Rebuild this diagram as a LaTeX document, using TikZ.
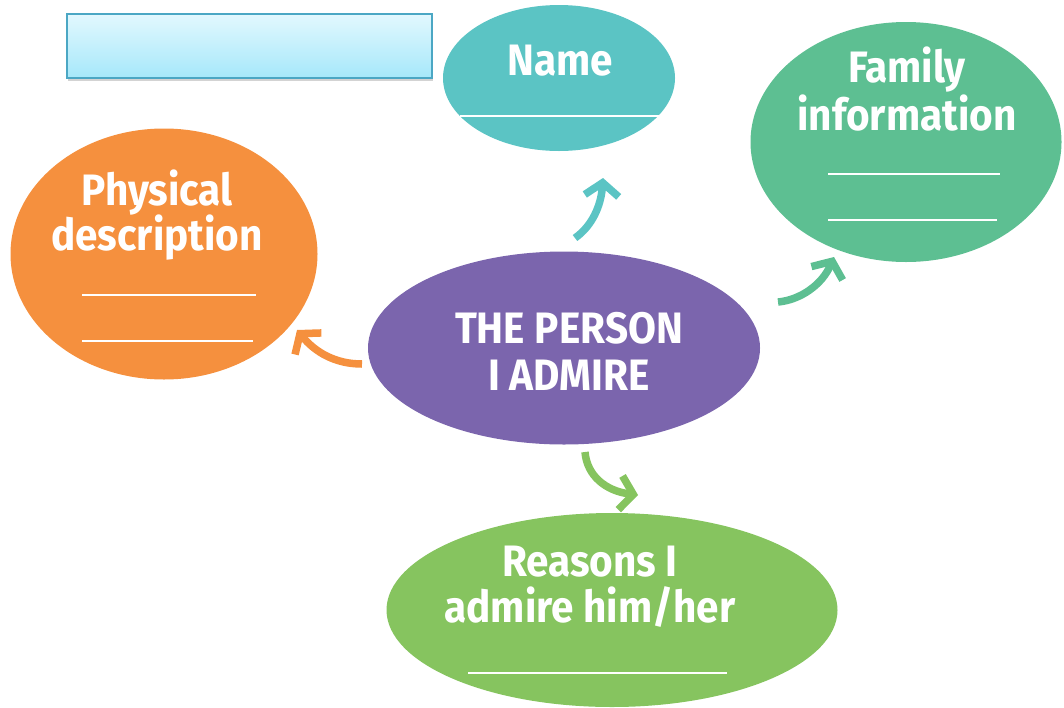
\documentclass[tikz,border=0pt]{standalone}
\usepackage{fontspec}
\newfontfamily\hand{Fira Sans}[FakeStretch=0.92]
\usetikzlibrary{arrows.meta,shadows,shapes.geometric}
\definecolor{corange}{HTML}{F5903E}
\definecolor{cteal}{HTML}{5BC4C4}
\definecolor{cfam}{HTML}{5DBF92}
\definecolor{cpurple}{HTML}{7B65AD}
\definecolor{cgreen}{HTML}{86C45F}
\definecolor{boxtop}{HTML}{E2F8FE}
\definecolor{boxbot}{HTML}{A6E8FA}
\definecolor{boxline}{HTML}{4BA7C4}
\begin{document}
\begin{tikzpicture}[x=1pt,y=-1pt]
\useasboundingbox (0,0) rectangle (1064,707);
\tikzset{
  bubble/.style={ellipse, inner sep=0pt},
  lbl/.style={text=white, font=\hand\bfseries\fontsize{44}{44}\selectfont, anchor=base, inner sep=0pt},
  blank/.style={white, line width=2pt},
  conn/.style={line width=7.5pt, -{Straight Barb[length=13pt,width=34pt]}},
}
% title box
\node[draw=boxline, line width=1.5pt, top color=boxtop, bottom color=boxbot,
      minimum width=365pt, minimum height=64pt, inner sep=0pt,
      drop shadow={shadow xshift=1pt, shadow yshift=-3pt, opacity=0.35}] (box) at (249.5,46) {};
% bubbles
\node[bubble, fill=corange, minimum width=307pt, minimum height=251pt] (phys) at (164,254) {};
\node[bubble, fill=cteal, minimum width=232pt, minimum height=146pt] (name) at (559,78) {};
\node[bubble, fill=cfam, minimum width=311pt, minimum height=240pt] (fam) at (906,142) {};
\node[bubble, fill=cpurple, minimum width=392pt, minimum height=193pt] (person) at (564,348) {};
\node[bubble, fill=cgreen, minimum width=451pt, minimum height=194pt] (reason) at (612,610) {};
% labels
\node[lbl] (t1) at (157,205) {Physical};
\node[lbl] (t2) at (157,250) {description};
\draw[blank] (82,295) -- (256,295);
\draw[blank] (82,341) -- (253,341);
\node[lbl] (t3) at (560,75) {Name};
\draw[blank] (460,116) -- (660,116);
\node[lbl] (t4) at (907,82) {Family};
\node[lbl] (t5) at (907,130) {information};
\draw[blank] (828,174) -- (1000,174);
\draw[blank] (828,220) -- (997,220);
\node[lbl] (t6) at (569,343) {THE PERSON};
\node[lbl] (t7) at (569,390) {I ADMIRE};
\node[lbl] (t8) at (590,576) {Reasons I};
\node[lbl] (t9) at (590,622) {admire him/her};
\draw[blank] (468,673) -- (727,673);
% connectors
\coordinate (a1s) at (362,364); \coordinate (a1e) at (297,330);
\coordinate (a2s) at (575,238); \coordinate (a2e) at (603,178);
\coordinate (a3s) at (778,302); \coordinate (a3e) at (834,257);
\coordinate (a4s) at (585,452); \coordinate (a4e) at (638,495);
\draw[conn, corange] (a1s) .. controls (335,364) and (315,352) .. (a1e);
\draw[conn, cteal] (a2s) .. controls (592,226) and (601,206) .. (a2e);
\draw[conn, cfam] (a3s) .. controls (800,300) and (822,285) .. (a3e);
\draw[conn, cgreen] (a4s) .. controls (587,476) and (606,491) .. (a4e);
\end{tikzpicture}
\end{document}
